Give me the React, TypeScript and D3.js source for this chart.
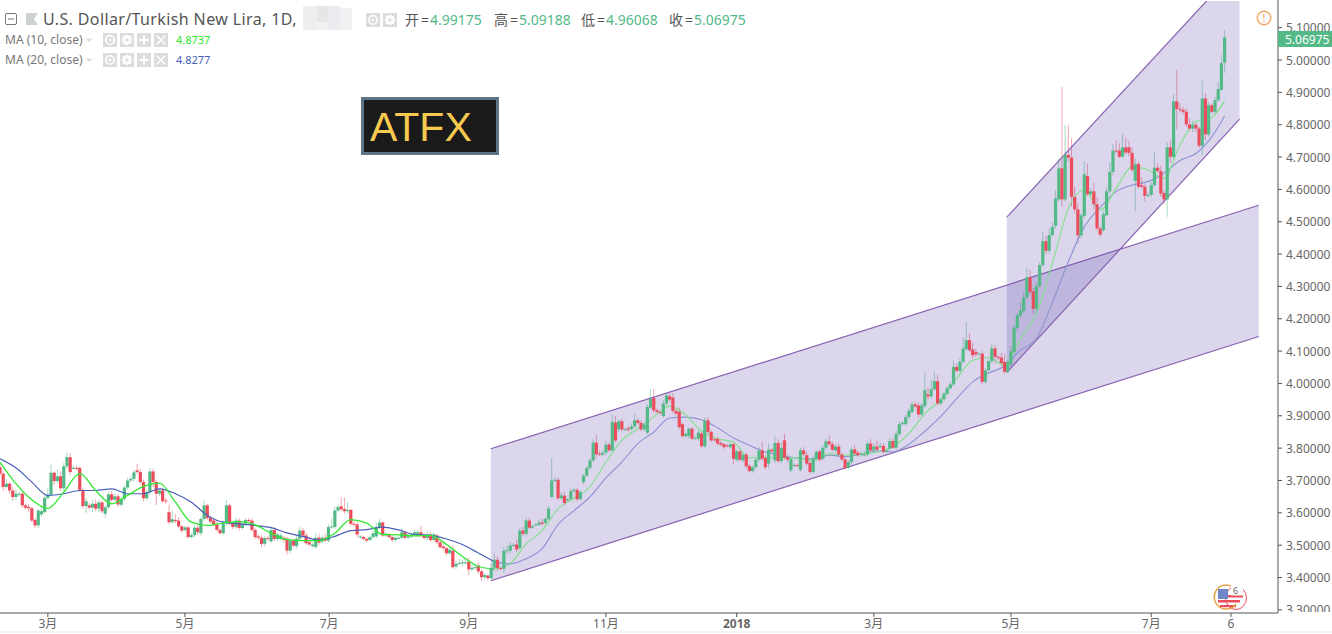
import React from 'react';
import * as d3 from 'd3';

const WIDTH = 1332;
const HEIGHT = 634;

const symbolTitle = 'U.S. Dollar/Turkish New Lira, 1D,';
const ohlcLabels = ['开', '高', '低', '收'];
const ohlcValues = ['4.99175', '5.09188', '4.96068', '5.06975'];
const priceTicks = ['5.10000', '5.00000', '4.90000', '4.80000', '4.70000', '4.60000', '4.50000', '4.40000', '4.30000', '4.20000', '4.10000', '4.00000', '3.90000', '3.80000', '3.70000', '3.60000', '3.50000', '3.40000', '3.30000'];
const timeTickBars = [15, 58, 103.2, 147, 190, 231, 274, 317, 361, 386];
const timeTickLabels = ['3月', '5月', '7月', '9月', '11月', '2018', '3月', '5月', '7月', '6'];

const opens = [
  3.741, 3.721, 3.680, 3.690, 3.669, 3.649, 3.659, 3.659, 3.623, 3.618,
  3.614, 3.578, 3.561, 3.595, 3.602, 3.646, 3.656, 3.724, 3.698, 3.713,
  3.676, 3.744, 3.772, 3.739, 3.739, 3.739, 3.671, 3.621, 3.623, 3.616,
  3.628, 3.613, 3.632, 3.597, 3.617, 3.657, 3.640, 3.651, 3.625, 3.643,
  3.678, 3.700, 3.705, 3.731, 3.726, 3.695, 3.645, 3.664, 3.728, 3.695,
  3.659, 3.669, 3.638, 3.602, 3.571, 3.578, 3.576, 3.558, 3.547, 3.555,
  3.525, 3.531, 3.554, 3.537, 3.581, 3.623, 3.584, 3.576, 3.564, 3.547,
  3.537, 3.568, 3.623, 3.566, 3.556, 3.576, 3.553, 3.566, 3.578, 3.576,
  3.547, 3.527, 3.523, 3.504, 3.522, 3.512, 3.547, 3.519, 3.519, 3.523,
  3.520, 3.483, 3.514, 3.497, 3.520, 3.545, 3.530, 3.509, 3.497, 3.494,
  3.523, 3.511, 3.523, 3.514, 3.556, 3.556, 3.607, 3.620, 3.612, 3.605,
  3.609, 3.566, 3.564, 3.525, 3.525, 3.519, 3.516, 3.525, 3.527, 3.556,
  3.570, 3.530, 3.533, 3.525, 3.516, 3.523, 3.523, 3.540, 3.523, 3.527,
  3.533, 3.530, 3.540, 3.530, 3.522, 3.533, 3.516, 3.530, 3.509, 3.496,
  3.491, 3.475, 3.483, 3.434, 3.444, 3.445, 3.447, 3.449, 3.425, 3.430,
  3.437, 3.419, 3.401, 3.406, 3.398, 3.430, 3.455, 3.429, 3.427, 3.483,
  3.483, 3.499, 3.502, 3.491, 3.545, 3.535, 3.576, 3.554, 3.563, 3.563,
  3.570, 3.569, 3.581, 3.649, 3.700, 3.702, 3.645, 3.653, 3.638, 3.643,
  3.667, 3.671, 3.642, 3.695, 3.715, 3.739, 3.762, 3.817, 3.783, 3.780,
  3.786, 3.811, 3.793, 3.879, 3.858, 3.883, 3.858, 3.861, 3.859, 3.867,
  3.886, 3.878, 3.858, 3.848, 3.925, 3.955, 3.917, 3.912, 3.899, 3.938,
  3.960, 3.956, 3.915, 3.913, 3.874, 3.837, 3.837, 3.860, 3.831, 3.829,
  3.845, 3.806, 3.886, 3.850, 3.827, 3.829, 3.816, 3.812, 3.808, 3.803,
  3.812, 3.764, 3.790, 3.762, 3.780, 3.745, 3.729, 3.741, 3.764, 3.793,
  3.770, 3.752, 3.795, 3.762, 3.816, 3.760, 3.824, 3.772, 3.731, 3.747,
  3.747, 3.733, 3.793, 3.778, 3.754, 3.726, 3.767, 3.790, 3.767, 3.801,
  3.821, 3.812, 3.793, 3.805, 3.780, 3.765, 3.739, 3.757, 3.796, 3.786,
  3.780, 3.780, 3.780, 3.814, 3.793, 3.805, 3.805, 3.807, 3.789, 3.798,
  3.822, 3.801, 3.843, 3.874, 3.874, 3.896, 3.912, 3.935, 3.932, 3.904,
  3.930, 3.966, 3.960, 3.982, 4.007, 3.938, 3.951, 3.968, 3.985, 3.997,
  4.051, 4.039, 4.067, 4.106, 4.134, 4.105, 4.097, 4.092, 4.092, 4.005,
  4.041, 4.069, 4.108, 4.082, 4.080, 4.067, 4.036, 4.059, 4.097, 4.172,
  4.209, 4.224, 4.266, 4.328, 4.285, 4.231, 4.301, 4.366, 4.440, 4.410,
  4.459, 4.487, 4.569, 4.665, 4.569, 4.706, 4.698, 4.577, 4.538, 4.458,
  4.518, 4.641, 4.585, 4.594, 4.554, 4.479, 4.474, 4.520, 4.594, 4.654,
  4.720, 4.720, 4.701, 4.730, 4.730, 4.713, 4.626, 4.678, 4.613, 4.608,
  4.580, 4.583, 4.613, 4.667, 4.657, 4.589, 4.569, 4.730, 4.701, 4.872,
  4.849, 4.846, 4.840, 4.801, 4.788, 4.800, 4.788, 4.735, 4.881, 4.770,
  4.860, 4.840, 4.876, 4.908, 4.99175,
];

const closes = [
  3.721, 3.680, 3.690, 3.669, 3.649, 3.659, 3.659, 3.623, 3.616, 3.614,
  3.576, 3.561, 3.607, 3.605, 3.646, 3.656, 3.724, 3.698, 3.713, 3.676,
  3.744, 3.772, 3.726, 3.739, 3.737, 3.671, 3.621, 3.636, 3.616, 3.628,
  3.613, 3.632, 3.605, 3.617, 3.657, 3.640, 3.651, 3.626, 3.643, 3.678,
  3.700, 3.705, 3.725, 3.726, 3.695, 3.645, 3.664, 3.728, 3.695, 3.659,
  3.669, 3.636, 3.636, 3.571, 3.580, 3.576, 3.558, 3.545, 3.555, 3.525,
  3.531, 3.554, 3.540, 3.581, 3.623, 3.584, 3.573, 3.564, 3.547, 3.537,
  3.568, 3.623, 3.566, 3.556, 3.576, 3.553, 3.566, 3.578, 3.576, 3.547,
  3.525, 3.523, 3.504, 3.522, 3.519, 3.547, 3.519, 3.533, 3.530, 3.516,
  3.483, 3.514, 3.499, 3.520, 3.545, 3.530, 3.506, 3.502, 3.502, 3.523,
  3.508, 3.523, 3.514, 3.556, 3.558, 3.607, 3.618, 3.611, 3.605, 3.609,
  3.566, 3.564, 3.533, 3.527, 3.519, 3.514, 3.525, 3.537, 3.556, 3.570,
  3.530, 3.535, 3.525, 3.516, 3.523, 3.523, 3.540, 3.523, 3.527, 3.533,
  3.540, 3.540, 3.530, 3.522, 3.533, 3.516, 3.533, 3.509, 3.494, 3.491,
  3.475, 3.486, 3.432, 3.442, 3.445, 3.447, 3.447, 3.425, 3.430, 3.432,
  3.419, 3.401, 3.408, 3.398, 3.430, 3.455, 3.429, 3.427, 3.483, 3.485,
  3.499, 3.501, 3.487, 3.545, 3.535, 3.576, 3.554, 3.558, 3.564, 3.570,
  3.566, 3.581, 3.613, 3.700, 3.702, 3.645, 3.654, 3.630, 3.642, 3.667,
  3.671, 3.642, 3.664, 3.715, 3.739, 3.762, 3.817, 3.781, 3.780, 3.786,
  3.811, 3.793, 3.881, 3.824, 3.883, 3.858, 3.858, 3.857, 3.867, 3.886,
  3.878, 3.858, 3.873, 3.927, 3.953, 3.917, 3.912, 3.909, 3.938, 3.963,
  3.950, 3.915, 3.907, 3.865, 3.837, 3.844, 3.860, 3.829, 3.831, 3.848,
  3.806, 3.886, 3.850, 3.824, 3.826, 3.814, 3.811, 3.803, 3.807, 3.812,
  3.767, 3.790, 3.764, 3.780, 3.744, 3.729, 3.741, 3.764, 3.793, 3.767,
  3.741, 3.795, 3.790, 3.816, 3.760, 3.801, 3.770, 3.764, 3.767, 3.748,
  3.746, 3.793, 3.781, 3.752, 3.726, 3.767, 3.788, 3.764, 3.801, 3.821,
  3.812, 3.795, 3.805, 3.780, 3.765, 3.738, 3.757, 3.796, 3.783, 3.778,
  3.782, 3.780, 3.814, 3.793, 3.805, 3.795, 3.807, 3.789, 3.793, 3.822,
  3.801, 3.843, 3.874, 3.878, 3.896, 3.915, 3.935, 3.929, 3.904, 3.932,
  3.979, 3.960, 3.982, 4.007, 3.938, 3.951, 3.968, 3.985, 3.997, 4.051,
  4.039, 4.067, 4.108, 4.134, 4.103, 4.087, 4.090, 4.092, 4.005, 4.041,
  4.069, 4.108, 4.082, 4.080, 4.063, 4.036, 4.067, 4.100, 4.173, 4.211,
  4.226, 4.266, 4.328, 4.283, 4.231, 4.301, 4.366, 4.440, 4.410, 4.459,
  4.484, 4.572, 4.665, 4.569, 4.706, 4.698, 4.577, 4.538, 4.458, 4.520,
  4.647, 4.585, 4.594, 4.554, 4.479, 4.460, 4.523, 4.594, 4.654, 4.720,
  4.718, 4.701, 4.730, 4.714, 4.713, 4.660, 4.678, 4.608, 4.608, 4.580,
  4.583, 4.613, 4.667, 4.657, 4.587, 4.569, 4.730, 4.701, 4.872, 4.849,
  4.846, 4.840, 4.801, 4.788, 4.800, 4.788, 4.735, 4.881, 4.770, 4.860,
  4.840, 4.876, 4.910, 4.990, 5.06975,
];

// wick lengths beyond the body, in thousandths of a lira
const upperWicks = [
  10, 8, 15, 5, 12, 14, 6, 8, 6, 10, 4, 6, 5, 14, 12, 22, 25, 5, 22, 16,
  10, 14, 12, 8, 6, 4, 6, 10, 8, 12, 14, 8, 6, 6, 8, 10, 8, 8, 6, 6,
  8, 10, 8, 21, 10, 8, 8, 10, 8, 8, 6, 8, 8, 23, 28, 18, 10, 5, 6, 6,
  6, 8, 10, 8, 15, 5, 8, 6, 8, 5, 8, 17, 6, 6, 8, 6, 8, 6, 5, 8,
  6, 8, 8, 6, 8, 8, 10, 5, 6, 6, 6, 6, 6, 10, 12, 8, 8, 16, 6, 14,
  12, 8, 12, 10, 25, 14, 8, 28, 35, 24, 4, 8, 10, 4, 4, 5, 4, 6, 14, 12,
  4, 5, 4, 6, 4, 6, 12, 5, 6, 6, 8, 8, 20, 6, 10, 8, 6, 6, 10, 5,
  4, 8, 16, 10, 12, 8, 14, 12, 10, 8, 10, 5, 6, 4, 14, 18, 10, 5, 12, 14,
  12, 6, 14, 10, 12, 10, 8, 5, 4, 8, 12, 6, 8, 70, 8, 6, 10, 12, 4, 8,
  8, 6, 6, 5, 6, 8, 10, 25, 8, 6, 12, 6, 22, 20, 5, 8, 6, 8, 10, 20,
  6, 8, 8, 8, 28, 28, 6, 6, 10, 8, 12, 14, 8, 12, 5, 8, 5, 6, 8, 8,
  6, 8, 10, 6, 5, 4, 6, 4, 5, 5, 4, 6, 5, 5, 6, 5, 4, 6, 10, 28,
  8, 18, 5, 22, 12, 18, 20, 6, 6, 6, 5, 8, 10, 10, 6, 10, 6, 6, 8, 8,
  18, 8, 8, 10, 6, 6, 6, 8, 14, 6, 8, 12, 8, 14, 8, 18, 10, 8, 6, 10,
  8, 10, 10, 6, 8, 8, 8, 8, 10, 8, 55, 22, 30, 30, 20, 6, 6, 8, 8, 20,
  10, 12, 33, 55, 20, 20, 10, 6, 8, 6, 6, 12, 10, 6, 14, 25, 6, 16, 6, 6,
  25, 16, 30, 22, 10, 10, 8, 30, 16, 20, 14, 25, 32, 252, 92, 92, 60, 30, 20, 6,
  40, 38, 10, 26, 22, 8, 8, 12, 30, 20, 32, 22, 42, 30, 20, 18, 17, 8, 25, 8,
  8, 10, 48, 14, 16, 8, 17, 22, 22, 97, 18, 10, 10, 18, 12, 6, 6, 55, 16, 10,
  5, 10, 22, 26, 22,
];

const lowerWicks = [
  6, 12, 5, 10, 12, 10, 8, 8, 5, 12, 6, 8, 8, 8, 4, 5, 5, 12, 6, 8,
  12, 8, 10, 6, 6, 6, 8, 22, 6, 14, 8, 12, 6, 12, 6, 6, 5, 8, 6, 6,
  6, 6, 8, 6, 8, 10, 6, 8, 15, 35, 8, 6, 8, 6, 4, 8, 5, 6, 5, 5,
  4, 6, 8, 8, 8, 6, 6, 6, 4, 5, 6, 8, 5, 6, 6, 8, 5, 6, 6, 6,
  5, 6, 10, 8, 5, 6, 6, 6, 5, 8, 12, 8, 5, 8, 6, 8, 6, 5, 6, 6,
  8, 6, 5, 6, 5, 6, 6, 6, 8, 6, 6, 6, 8, 5, 4, 5, 4, 6, 6, 6,
  5, 6, 5, 5, 6, 4, 5, 5, 4, 5, 5, 6, 5, 5, 8, 6, 8, 6, 6, 8,
  6, 5, 4, 8, 6, 10, 6, 18, 5, 6, 8, 12, 6, 8, 4, 6, 8, 5, 12, 10,
  8, 5, 8, 5, 6, 8, 5, 4, 4, 4, 5, 6, 4, 4, 5, 6, 5, 8, 4, 5,
  4, 6, 4, 8, 4, 6, 4, 12, 4, 5, 8, 6, 4, 6, 8, 6, 4, 8, 5, 6,
  4, 6, 6, 6, 4, 8, 6, 6, 6, 8, 6, 8, 6, 6, 5, 6, 8, 5, 5, 6,
  5, 6, 6, 5, 4, 6, 5, 5, 5, 4, 15, 6, 5, 6, 6, 4, 5, 5, 6, 6,
  6, 14, 5, 8, 6, 8, 6, 8, 6, 5, 4, 6, 6, 6, 5, 5, 6, 6, 4, 5,
  6, 5, 6, 8, 6, 5, 6, 8, 6, 5, 5, 6, 6, 4, 5, 6, 5, 6, 5, 6,
  4, 6, 5, 4, 5, 6, 5, 6, 10, 5, 6, 10, 8, 5, 6, 5, 6, 5, 4, 6,
  5, 6, 6, 5, 6, 10, 8, 5, 8, 6, 4, 6, 20, 8, 10, 6, 4, 6, 4, 10,
  5, 6, 5, 8, 16, 8, 6, 5, 10, 8, 5, 10, 8, 22, 6, 12, 30, 12, 25, 10,
  6, 6, 8, 15, 6, 6, 6, 5, 6, 10, 6, 5, 5, 6, 12, 6, 93, 5, 6, 18,
  5, 6, 4, 5, 10, 15, 54, 20, 6, 64, 8, 8, 8, 6, 10, 10, 6, 30, 18, 8,
  5, 6, 6, 4, 31,
];

// moving averages read every five bars
const ma10Values = [
  3.757, 3.690, 3.640, 3.614, 3.664, 3.721, 3.669, 3.628, 3.654, 3.682,
  3.692, 3.633, 3.571, 3.561, 3.568, 3.573, 3.563, 3.537, 3.517, 3.514,
  3.514, 3.537, 3.579, 3.568, 3.533, 3.532, 3.529, 3.530, 3.502, 3.465,
  3.434, 3.426, 3.443, 3.504, 3.545, 3.612, 3.645, 3.680, 3.757, 3.824,
  3.860, 3.896, 3.930, 3.903, 3.852, 3.829, 3.819, 3.770, 3.772, 3.769,
  3.770, 3.762, 3.783, 3.778, 3.781, 3.788, 3.805, 3.845, 3.907, 3.950,
  4.015, 4.072, 4.080, 4.056, 4.139, 4.216, 4.371, 4.541, 4.598, 4.536,
  4.603, 4.670, 4.660, 4.634, 4.737, 4.810, 4.823, 4.8737,
];

const ma20Values = [
  3.767, 3.739, 3.695, 3.654, 3.659, 3.669, 3.669, 3.674, 3.659, 3.659,
  3.674, 3.659, 3.633, 3.592, 3.571, 3.566, 3.561, 3.554, 3.538, 3.527,
  3.516, 3.527, 3.545, 3.548, 3.556, 3.547, 3.533, 3.530, 3.519, 3.502,
  3.476, 3.449, 3.442, 3.458, 3.489, 3.564, 3.607, 3.649, 3.708, 3.757,
  3.814, 3.850, 3.893, 3.896, 3.888, 3.863, 3.831, 3.809, 3.788, 3.778,
  3.769, 3.767, 3.778, 3.774, 3.781, 3.791, 3.788, 3.812, 3.852, 3.898,
  3.953, 4.005, 4.032, 4.054, 4.103, 4.139, 4.250, 4.376, 4.484, 4.544,
  4.593, 4.613, 4.624, 4.650, 4.689, 4.711, 4.763, 4.827,
];

const maBars = [...d3.range(0, 384, 5), 384];

// parallel channels: [bar, price] at left top, right top, right bottom, left bottom
const lowerChannel = [[153.9, 3.798], [394.7, 4.551], [394.7, 4.145], [153.9, 3.39]];
const upperChannel = [[315.7, 4.514], [388.7, 5.293], [388.7, 4.817], [315.7, 4.034]];
const channelStartBar = 154;
const channelStartKnot = 31;

const UP = '#53b987';
const DOWN = '#eb4d5c';
const MA10_COLOR = '#2fe82f';
const MA20_COLOR = '#4a5fb8';
const MA10_FADED = '#7fe08a';
const MA20_FADED = '#8a93d0';
const CHANNEL_LINE = '#8a60b0';
const AXIS = '#555';
const TEXT = '#666';
const FONT = '"Noto Sans", Roboto, sans-serif';

const xScale = d3.scaleLinear().domain([0, 384]).range([0, 1224.6]);
const yScale = d3.scaleLinear().domain([3.4, 5]).range([577.5, 60]);

const ICON_FILL = '#dcdcdc';

function IconBox({ x, y, kind }: { x: number; y: number; kind: string }) {
  return (
    <g transform={`translate(${x},${y})`}>
      <rect width={14} height={14} fill={ICON_FILL} />
      {kind === 'eye' && (
        <g fill="none" stroke="#fff">
          <circle cx={7} cy={7} r={4.2} strokeWidth={1.6} />
          <circle cx={7} cy={7} r={1.2} fill="#fff" stroke="none" />
        </g>
      )}
      {kind === 'gear' && (
        <g>
          <circle cx={7} cy={7} r={3.6} fill="none" stroke="#fff" strokeWidth={2.2} />
          <path d="M7 1.5V12.5M1.5 7H12.5M3 3L11 11M11 3L3 11" stroke="#fff" strokeWidth={1.2} />
          <circle cx={7} cy={7} r={1.6} fill={ICON_FILL} />
        </g>
      )}
      {kind === 'plus' && <path d="M7 2.5V11.5M2.5 7H11.5" stroke="#fff" strokeWidth={2} />}
      {kind === 'cross' && <path d="M2.5 2.5L11.5 11.5M11.5 2.5L2.5 11.5" stroke="#fff" strokeWidth={1.5} />}
    </g>
  );
}

function MaLegend({ y, label, value, color }: { y: number; label: string; value: string; color: string }) {
  return (
    <g>
      <text x={5} y={y + 4} fontSize={12} fill="#777" fontFamily={FONT}>{label}</text>
      <path d={`M85.5 ${y - 1.5}h7l-3.5 3.5z`} fill="#ddd" />
      {['eye', 'gear', 'plus', 'cross'].map((kind, i) => (
        <IconBox key={kind} x={103 + i * 17} y={y - 7} kind={kind} />
      ))}
      <text x={176} y={y + 4} fontSize={11} fill={color} fontFamily={FONT}>{value}</text>
    </g>
  );
}

function Candles({ from, to }: { from: number; to: number }) {
  return (
    <g>
      {d3.range(from, to).map(i => {
        const top = yScale(Math.max(opens[i], closes[i]));
        const bottom = yScale(Math.min(opens[i], closes[i]));
        return (
          <rect
            key={i}
            x={xScale(i) - 1.6}
            y={top}
            width={3.2}
            height={Math.max(1, bottom - top)}
            fill={closes[i] >= opens[i] ? UP : DOWN}
          />
        );
      })}
    </g>
  );
}

function Channel({ corners }: { corners: number[][] }) {
  const pts = corners.map(([b, p]) => [xScale(b), yScale(p)] as [number, number]);
  return (
    <g>
      <polygon points={pts.map(d => d.join(',')).join(' ')} fill="rgb(93,68,170)" fillOpacity={0.22} />
      <line x1={pts[0][0]} y1={pts[0][1]} x2={pts[1][0]} y2={pts[1][1]} stroke={CHANNEL_LINE} strokeWidth={1.2} />
      <line x1={pts[3][0]} y1={pts[3][1]} x2={pts[2][0]} y2={pts[2][1]} stroke={CHANNEL_LINE} strokeWidth={1.2} />
    </g>
  );
}

export default function App() {
  const maLine = (values: number[], offset: number) =>
    d3
      .line<number>()
      .x((_, i) => xScale(maBars[i + offset]))
      .y(d => yScale(d))
      .curve(d3.curveMonotoneX)(values) ?? '';

  return (
    <svg width={WIDTH} height={HEIGHT} style={{ position: 'fixed', left: 0, top: 0, background: '#fff' }}>
      <defs>
        <clipPath id="pane"><rect x={0} y={1} width={1278} height={612} /></clipPath>
        <clipPath id="axis"><rect x={1278} y={0} width={54} height={612} /></clipPath>
      </defs>

      <g clipPath="url(#pane)">
        <Candles from={0} to={channelStartBar} />
        {/* wicks */}
        <g>
          {closes.map((c, i) => (
            <line
              key={i}
              x1={xScale(i)}
              x2={xScale(i)}
              y1={yScale(Math.max(opens[i], c) + upperWicks[i] / 1000)}
              y2={yScale(Math.min(opens[i], c) - lowerWicks[i] / 1000)}
              stroke={c >= opens[i] ? UP : DOWN}
              strokeOpacity={0.5}
            />
          ))}
        </g>
        <path d={maLine(ma20Values.slice(0, channelStartKnot + 1), 0)} fill="none" stroke={MA20_COLOR} strokeWidth={1.2} />
        <path d={maLine(ma10Values.slice(0, channelStartKnot + 1), 0)} fill="none" stroke={MA10_COLOR} strokeWidth={1.3} />
        <Channel corners={lowerChannel} />
        <Channel corners={upperChannel} />
        <path d={maLine(ma20Values.slice(channelStartKnot), channelStartKnot)} fill="none" stroke={MA20_FADED} strokeWidth={1.1} />
        <path d={maLine(ma10Values.slice(channelStartKnot), channelStartKnot)} fill="none" stroke={MA10_FADED} strokeWidth={1.1} />
        <Candles from={channelStartBar} to={closes.length} />
      </g>

      {/* price axis */}
      <line x1={1278} x2={1278} y1={0} y2={613} stroke={AXIS} />
      <g clipPath="url(#axis)">
        {priceTicks.map(t => (
          <g key={t}>
            <line x1={1278} x2={1282} y1={yScale(+t)} y2={yScale(+t)} stroke={AXIS} />
            <text x={1286} y={yScale(+t) + 4.5} fontSize={12} fill={TEXT} fontFamily={FONT}>{t}</text>
          </g>
        ))}
      </g>
      <rect x={1278} y={31} width={54} height={16} fill={UP} />
      <text x={1285} y={43.5} fontSize={12} fill="#fff" fontFamily={FONT}>5.06975</text>

      {/* time axis */}
      <line x1={0} x2={1278} y1={613} y2={613} stroke={AXIS} />
      {timeTickBars.map((b, i) => (
        <g key={i}>
          <line x1={xScale(b)} x2={xScale(b)} y1={613} y2={617} stroke={AXIS} />
          <text
            x={xScale(b)}
            y={628}
            textAnchor="middle"
            fontSize={12}
            fontWeight={timeTickLabels[i] === '2018' ? 700 : 400}
            fill={TEXT}
            fontFamily={`${FONT}, "Noto Sans CJK SC"`}
          >
            {timeTickLabels[i]}
          </text>
        </g>
      ))}
      <line x1={0} x2={WIDTH} y1={632} y2={632} stroke="#e8e8e8" />

      {/* legend */}
      <rect x={5.5} y={13.5} width={11} height={11} rx={1.5} fill="none" stroke="#777" />
      <line x1={8} x2={14} y1={19} y2={19} stroke="#777" />
      <path d="M26 13h12l-4 6 4 6H26z" fill="#cdd3d3" />
      <text x={43} y={25} fontSize={16} letterSpacing={0.38} fill="#555" fontFamily={FONT}>{symbolTitle}</text>
      <g>
        <rect x={303} y={6} width={14} height={24} fill="#eeeeee" />
        <rect x={317} y={6} width={11} height={16} fill="#e6e6e6" />
        <rect x={317} y={22} width={11} height={8} fill="#f2f2f2" />
        <rect x={328} y={6} width={12} height={24} fill="#ececf0" />
        <rect x={340} y={8} width={12} height={22} fill="#f1f1f4" />
      </g>
      <IconBox x={366} y={13} kind="eye" />
      <IconBox x={383} y={13} kind="gear" />
      {ohlcLabels.map((label, i) => {
        const x = [405, 494, 581, 669][i];
        return (
          <g key={label}>
            <text x={x} y={25} fontSize={14} fill="#555" fontFamily='"Noto Sans CJK SC", sans-serif'>{label}</text>
            <text x={x + 16} y={25} fontSize={14} fill="#555" fontFamily={FONT}>=</text>
            <text x={x + 25} y={25} fontSize={14} fill={UP} fontFamily={FONT}>{ohlcValues[i]}</text>
          </g>
        );
      })}
      <MaLegend y={40} label="MA (10, close)" value="4.8737" color={MA10_COLOR} />
      <MaLegend y={60} label="MA (20, close)" value="4.8277" color={MA20_COLOR} />

      {/* watermark box */}
      <rect x={362.5} y={98.5} width={135} height={55} fill="#1a1a1a" stroke="#5f7387" strokeWidth={3} />
      <text x={370} y={140.5} fontSize={41} fill="#f8c94f" fontFamily='"Liberation Sans", sans-serif'>ATFX</text>

      {/* warning badge */}
      <circle cx={1264} cy={18} r={6.8} fill="none" stroke="#f2aa66" strokeWidth={1.4} />
      <text x={1264} y={22} textAnchor="middle" fontSize={11} fill="#f2aa66" fontFamily={FONT}>!</text>

      {/* economic calendar flag */}
      <g transform="translate(1229,598)">
        <ellipse cx={7} cy={0} rx={10.5} ry={11.5} fill="#fff" stroke="#ea4d5c" strokeWidth={1} />
        <rect x={-11} y={-9} width={10} height={10} fill="#6f86c9" />
        <rect x={-1} y={-3} width={15} height={2.5} fill="#ea4d5c" />
        <rect x={-11} y={2} width={22} height={2.5} fill="#ea4d5c" />
        <rect x={-9} y={7} width={16} height={2.2} fill="#ea4d5c" />
        <path d="M3 -11.5A12 12 0 1 0 7 6" fill="none" stroke="#e2a040" strokeWidth={1.4} />
        <rect x={2} y={-12} width={12} height={9.5} fill="#fff" />
        <text x={4} y={-4} fontSize={9} fill="#666" fontFamily={FONT}>6</text>
      </g>
    </svg>
  );
}
